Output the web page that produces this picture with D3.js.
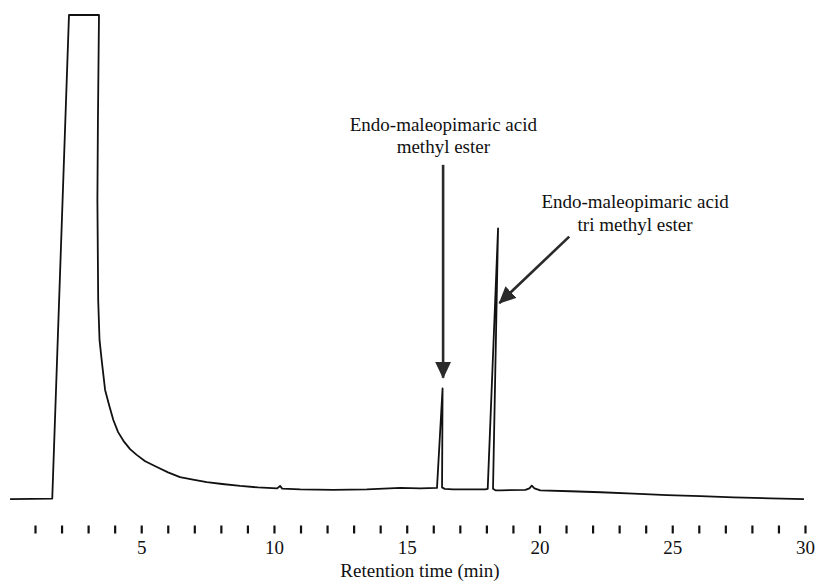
<!DOCTYPE html>
<html>
<head>
<meta charset="utf-8">
<script src="https://cdn.jsdelivr.net/npm/d3@7"></script>
<style>
  body { margin: 0; background: #fff; }
  text { font-family: "Liberation Serif", "Times New Roman", serif; fill: #111; }
</style>
</head>
<body>
<script>
var svgWidth = 820;
var svgHeight = 587;

// chromatogram trace (time in min, detector response in % of full scale)
var retentionTime = [0.06, 1.65, 2.28, 3.41, 3.37, 3.35, 3.38, 3.43, 3.51, 3.64, 3.79, 3.95, 4.13, 4.33,
  4.58, 4.83, 5.15, 5.59, 6.01, 6.46, 6.95, 7.47, 8.05, 8.73, 9.40, 10.12, 10.23, 10.31, 10.99,
  12.23, 13.50, 14.76, 15.51, 16.14, 16.35, 16.33, 16.43, 16.75, 17.40, 17.96, 18.05, 18.44,
  18.25, 18.34, 18.53, 19.47, 19.62, 19.71, 19.81, 20.03, 21.16, 22.30, 23.54, 24.81, 26.07, 27.31,
  28.70, 29.96];
var signal = [0.2, 0.3, 100, 100, 78.4, 61.9, 41.2, 33.0, 28.9, 22.7, 19.6, 16.5, 14.0, 12.2,
  10.5, 9.3, 8.0, 6.8, 5.7, 4.7, 4.2, 3.7, 3.3, 2.9, 2.6, 2.4, 2.9, 2.35, 2.2,
  2.1, 2.2, 2.5, 2.4, 2.5, 23.0, 2.6, 2.3, 2.2, 2.2, 2.2, 2.3, 56.0,
  2.3, 2.0, 2.0, 2.1, 2.4, 2.95, 2.4, 2.0, 1.8, 1.6, 1.3, 1.0, 0.8, 0.55,
  0.35, 0.2];

var tickMinutes = [1, 2, 3, 4, 5, 6, 7, 8, 9, 10, 11, 12, 13, 14, 15, 16, 17, 18, 19, 20,
  21, 22, 23, 24, 25, 26, 27, 28, 29, 30];
var tickLabels = [5, 10, 15, 20, 25, 30];

// peak annotations
var labelLines = [["Endo-maleopimaric acid", "methyl ester"], ["Endo-maleopimaric acid", "tri methyl ester"]];
var labelTime = [16.38, 23.6];
var labelValue = [76.1, 60.2];
var arrowFrom = [[16.37, 69.1], [21.12, 54.3]];
var arrowTo = [[16.37, 25.2], [18.49, 40.6]];

var trace = retentionTime.map(function(t, i) { return { t: t, v: signal[i] }; });

var svg = d3.select("body")
  .append("svg")
  .attr("width", svgWidth)
  .attr("height", svgHeight);

var x = d3.scaleLinear()
  .domain([0, 30])
  .range([8.45, 805]);

var y = d3.scaleLinear()
  .domain([0, 100])
  .range([500, 15]);

// axis: short separate tick marks, numbers every 5 min, no axis line
var bottomAxis = d3.axisBottom(x)
  .tickValues(tickMinutes)
  .tickSize(8)
  .tickPadding(7.5)
  .tickFormat(function(d) { return tickLabels.indexOf(d) >= 0 ? d : ""; });

var axisG = svg.append("g")
  .attr("transform", "translate(0, 525.5)")
  .call(bottomAxis);

axisG.select(".domain").remove();
axisG.selectAll(".tick line")
  .attr("stroke", "#111")
  .attr("stroke-width", 2.2);
axisG.selectAll(".tick text")
  .attr("font-family", "Liberation Serif, serif")
  .attr("font-size", 19)
  .attr("fill", "#111");

svg.append("text")
  .attr("x", (x(1) + x(30)) / 2)
  .attr("y", 577)
  .attr("text-anchor", "middle")
  .attr("font-size", 19)
  .text("Retention time (min)");

// the trace
var line = d3.line()
  .x(function(d) { return x(d.t); })
  .y(function(d) { return y(d.v); });

svg.append("path")
  .datum(trace)
  .attr("d", line)
  .attr("fill", "none")
  .attr("stroke", "#111")
  .attr("stroke-width", 1.8)
  .attr("stroke-linejoin", "round");

// arrows
svg.append("defs").append("marker")
  .attr("id", "head")
  .attr("markerUnits", "userSpaceOnUse")
  .attr("viewBox", "0 -8 17 16")
  .attr("markerWidth", 17)
  .attr("markerHeight", 16)
  .attr("refX", 16)
  .attr("refY", 0)
  .attr("orient", "auto")
  .append("path")
  .attr("d", "M0,-8L17,0L0,8Z")
  .attr("fill", "#2a2a2a");

svg.selectAll(".arrow")
  .data(arrowFrom)
  .enter()
  .append("line")
  .attr("class", "arrow")
  .attr("x1", function(d) { return x(d[0]); })
  .attr("y1", function(d) { return y(d[1]); })
  .attr("x2", function(d, i) { return x(arrowTo[i][0]); })
  .attr("y2", function(d, i) { return y(arrowTo[i][1]); })
  .attr("stroke", "#2a2a2a")
  .attr("stroke-width", 2.6)
  .attr("marker-end", "url(#head)");

// labels
var labels = svg.selectAll(".peak-label")
  .data(labelLines)
  .enter()
  .append("text")
  .attr("class", "peak-label")
  .attr("text-anchor", "middle")
  .attr("font-size", 19)
  .attr("x", function(d, i) { return x(labelTime[i]); })
  .attr("y", function(d, i) { return y(labelValue[i]); });

labels.selectAll("tspan")
  .data(function(d, i) { return d.map(function(s) { return { s: s, i: i }; }); })
  .enter()
  .append("tspan")
  .attr("x", function(d) { return x(labelTime[d.i]); })
  .attr("dy", function(d, j) { return j === 0 ? 0 : 22.5; })
  .text(function(d) { return d.s; });
</script>
</body>
</html>
